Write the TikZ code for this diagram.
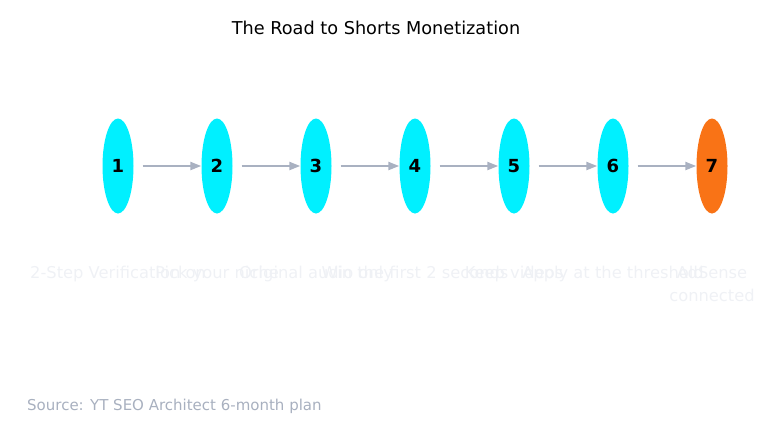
\documentclass[tikz,border=0pt]{standalone}
\usepackage{fontspec}
\setmainfont{DejaVu Sans}
\usepackage{tikz}
\usetikzlibrary{shapes.geometric,arrows.meta}

\definecolor{stepcyan}{HTML}{00F0FF}
\definecolor{goalorange}{HTML}{F97316}
\definecolor{linkgray}{HTML}{A9B1C1}
\definecolor{labelgray}{HTML}{EFF1F5}
\definecolor{sourcegray}{HTML}{A8B0BF}

\tikzset{
  milestone/.style={shape=ellipse, fill=stepcyan, minimum width=31pt, minimum height=95pt,
    inner sep=0pt, font=\fontsize{18}{18}\selectfont\bfseries},
  goal/.style={milestone, fill=goalorange},
  caption/.style={anchor=north, inner sep=0pt, align=center, text=labelgray,
    font=\fontsize{16.3}{23}\selectfont},
  link/.style={-{Triangle[length=11pt,width=8pt]}, draw=linkgray, fill=linkgray,
    line width=2.2pt, shorten <=9pt},
}

\begin{document}
\begin{tikzpicture}[x=1pt, y=-1pt]

	\useasboundingbox (0, 0) rectangle (776, 432);

	\node[anchor=base, inner sep=0pt] (title) at (376, 34) {\fontsize{17.7}{20}\selectfont The Road to Shorts Monetization};

	\node[milestone] (a) at (118, 166) {1};
	\node[milestone] (b) at (217, 166) {2};
	\node[milestone] (c) at (316, 166) {3};
	\node[milestone] (d) at (415, 166) {4};
	\node[milestone] (e) at (514, 166) {5};
	\node[milestone] (f) at (613, 166) {6};
	\node[goal]      (g) at (712, 166) {7};

    \draw[link] (a) edge (b);
    \draw[link] (b) edge (c);
    \draw[link] (c) edge (d);
    \draw[link] (d) edge (e);
    \draw[link] (e) edge (f);
    \draw[link] (f) edge (g);

	\node[caption] (la) at (118, 266) {2-Step Verification on};
	\node[caption] (lb) at (217, 266) {Pick your niche};
	\node[caption] (lc) at (316, 266) {Original audio only};
	\node[caption] (ld) at (415, 266) {Win the first 2 seconds};
	\node[caption] (le) at (514, 266) {Keep videos};
	\node[caption] (lf) at (613, 266) {Apply at the threshold};
	\node[caption] (lg) at (712, 266) {AdSense\\connected};

	\node[anchor=base west, inner sep=0pt, text=sourcegray] (source) at (27, 410)
	  {\fontsize{15}{18}\selectfont Source: YT SEO Architect 6-month plan};

\end{tikzpicture}
\end{document}
